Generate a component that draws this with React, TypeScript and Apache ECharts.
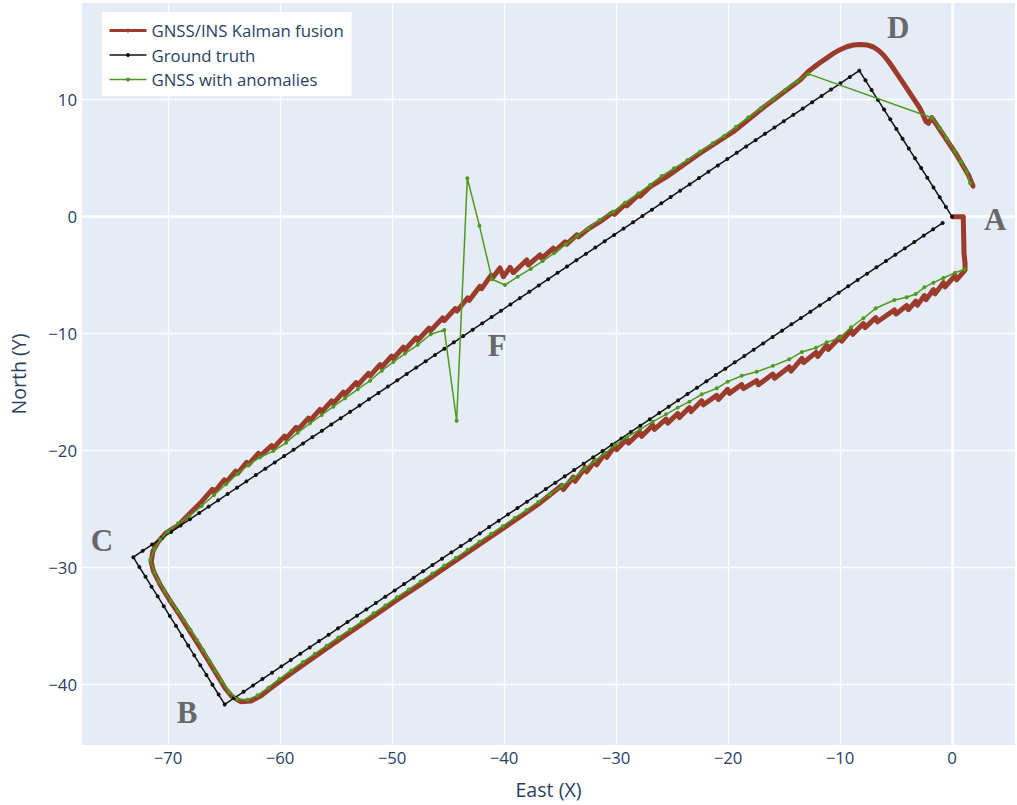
import React, { useEffect, useRef } from "react";
import * as echarts from "echarts";

type P = [number, number];

const xTicks = [-70, -60, -50, -40, -30, -20, -10, 0];
const yTicks = [-40, -30, -20, -10, 0, 10];

const seriesNames = ["GNSS/INS Kalman fusion", "Ground truth", "GNSS with anomalies"];

// ---- Ground truth (1 m spacing along a rotated rectangle) ----
const truthAB: P[] = [
  [-0.84,-0.54],[-1.69,-1.08],[-2.53,-1.62],[-3.37,-2.17],[-4.22,-2.71],[-5.06,-3.25],[-5.90,-3.79],[-6.75,-4.33],[-7.59,-4.87],[-8.43,-5.41],
  [-9.28,-5.95],[-10.12,-6.50],[-10.96,-7.04],[-11.81,-7.58],[-12.65,-8.12],[-13.49,-8.66],[-14.34,-9.20],[-15.18,-9.74],[-16.02,-10.28],[-16.87,-10.83],
  [-17.71,-11.37],[-18.55,-11.91],[-19.40,-12.45],[-20.24,-12.99],[-21.09,-13.53],[-21.93,-14.07],[-22.77,-14.62],[-23.62,-15.16],[-24.46,-15.70],[-25.30,-16.24],
  [-26.15,-16.78],[-26.99,-17.32],[-27.83,-17.86],[-28.68,-18.40],[-29.52,-18.95],[-30.36,-19.49],[-31.21,-20.03],[-32.05,-20.57],[-32.89,-21.11],[-33.74,-21.65],
  [-34.58,-22.19],[-35.42,-22.73],[-36.27,-23.28],[-37.11,-23.82],[-37.95,-24.36],[-38.80,-24.90],[-39.64,-25.44],[-40.48,-25.98],[-41.33,-26.52],[-42.17,-27.07],
  [-43.01,-27.61],[-43.86,-28.15],[-44.70,-28.69],[-45.54,-29.23],[-46.39,-29.77],[-47.23,-30.31],[-48.07,-30.85],[-48.92,-31.40],[-49.76,-31.94],[-50.60,-32.48],
  [-51.45,-33.02],[-52.29,-33.56],[-53.13,-34.10],[-53.98,-34.64],[-54.82,-35.18],[-55.66,-35.73],[-56.51,-36.27],[-57.35,-36.81],[-58.19,-37.35],[-59.04,-37.89],
  [-59.88,-38.43],[-60.72,-38.97],[-61.57,-39.51],[-62.41,-40.06],[-63.25,-40.60],[-64.10,-41.14],[-64.94,-41.68],
];
const truthBC: P[] = [
  [-65.48,-40.84],[-66.03,-40.00],[-66.57,-39.16],[-67.12,-38.33],[-67.66,-37.49],[-68.20,-36.65],[-68.75,-35.81],[-69.29,-34.97],
  [-69.84,-34.13],[-70.38,-33.29],[-70.92,-32.45],[-71.47,-31.62],[-72.01,-30.78],[-72.56,-29.94],[-73.10,-29.10],
];
const truthCD: P[] = [
  [-72.26,-28.56],[-71.42,-28.02],[-70.57,-27.48],[-69.73,-26.94],[-68.89,-26.40],[-68.05,-25.86],[-67.21,-25.32],[-66.37,-24.78],[-65.52,-24.24],[-64.68,-23.70],
  [-63.84,-23.16],[-63.00,-22.62],[-62.16,-22.08],[-61.31,-21.54],[-60.47,-21.00],[-59.63,-20.46],[-58.79,-19.92],[-57.95,-19.38],[-57.11,-18.84],[-56.26,-18.30],
  [-55.42,-17.76],[-54.58,-17.22],[-53.74,-16.68],[-52.90,-16.14],[-52.06,-15.60],[-51.21,-15.06],[-50.37,-14.52],[-49.53,-13.98],[-48.69,-13.44],[-47.85,-12.90],
  [-47.00,-12.36],[-46.16,-11.82],[-45.32,-11.28],[-44.48,-10.74],[-43.64,-10.20],[-42.80,-9.66],[-41.95,-9.12],[-41.11,-8.58],[-40.27,-8.04],[-39.43,-7.50],
  [-38.59,-6.96],[-37.74,-6.42],[-36.90,-5.88],[-36.06,-5.34],[-35.22,-4.80],[-34.38,-4.26],[-33.54,-3.72],[-32.69,-3.18],[-31.85,-2.64],[-31.01,-2.10],
  [-30.17,-1.56],[-29.33,-1.02],[-28.48,-0.48],[-27.64,0.06],[-26.80,0.60],[-25.96,1.14],[-25.12,1.68],[-24.28,2.22],[-23.43,2.76],[-22.59,3.30],
  [-21.75,3.84],[-20.91,4.38],[-20.07,4.92],[-19.22,5.46],[-18.38,6.00],[-17.54,6.54],[-16.70,7.08],[-15.86,7.62],[-15.02,8.16],[-14.17,8.70],
  [-13.33,9.24],[-12.49,9.78],[-11.65,10.32],[-10.81,10.86],[-9.97,11.40],[-9.12,11.94],[-8.28,12.48],
];
const truthDA: P[] = [
  [-7.73,11.65],[-7.18,10.82],[-6.62,9.98],[-6.07,9.15],[-5.52,8.32],[-4.97,7.49],[-4.42,6.66],[-3.86,5.82],
  [-3.31,4.99],[-2.76,4.16],[-2.21,3.33],[-1.66,2.50],[-1.10,1.66],[-0.55,0.83],[0.00,0.00],
];

// ---- GNSS with anomalies ----
const gnssAB: P[] = [
  [1.10,-4.50],[0.27,-4.79],[-0.77,-5.24],[-1.67,-5.64],[-2.47,-6.04],[-3.24,-6.61],[-4.05,-6.89],[-5.15,-7.12],[-6.81,-7.83],[-7.92,-8.68],
  [-9.02,-9.45],[-10.00,-10.34],[-11.19,-10.74],[-12.14,-11.20],[-13.40,-11.56],[-14.53,-12.19],[-16.00,-12.75],[-17.44,-13.26],[-18.78,-13.59],[-20.03,-14.10],
  [-21.01,-14.67],[-22.35,-15.18],[-23.45,-15.81],[-24.49,-16.32],[-25.54,-16.89],[-26.72,-17.52],[-27.86,-18.17],[-29.04,-18.85],[-30.09,-19.51],[-30.98,-20.22],
  [-31.88,-20.85],[-32.77,-21.50],[-33.81,-22.36],[-34.85,-23.02],[-35.90,-23.70],[-36.95,-24.38],[-38.00,-25.08],[-39.05,-25.74],[-40.10,-26.45],[-41.15,-27.10],
  [-42.20,-27.78],[-43.25,-28.47],[-44.30,-29.16],[-45.35,-29.82],[-46.40,-30.50],[-47.45,-31.18],[-48.50,-31.86],[-49.55,-32.52],[-50.60,-33.22],[-51.65,-33.90],
  [-52.70,-34.60],[-53.75,-35.28],[-54.80,-35.96],[-55.85,-36.66],[-56.90,-37.36],[-57.95,-38.05],[-59.00,-38.78],[-60.05,-39.50],[-61.05,-40.25],[-62.00,-40.90],
  [-62.90,-41.28],[-63.80,-41.22],[-64.55,-40.62],
];
const gnssBC: P[] = [
  [-65.20,-39.70],[-65.75,-38.85],[-66.30,-37.95],[-66.85,-37.05],[-67.40,-36.20],[-68.00,-35.30],[-68.55,-34.50],[-69.15,-33.70],
  [-69.75,-32.85],[-70.30,-32.00],[-70.80,-31.20],[-71.20,-30.40],[-71.60,-29.35],[-71.20,-28.40],[-70.70,-27.60],[-70.00,-26.90],
];
const gnssCD: P[] = [
  [-69.10,-26.20],[-68.10,-25.60],[-67.00,-24.73],[-65.89,-23.79],[-64.82,-22.87],[-63.81,-21.99],[-62.83,-21.22],[-61.79,-20.56],[-60.60,-20.03],[-59.46,-19.32],
  [-58.42,-18.46],[-57.32,-17.66],[-56.28,-16.95],[-55.24,-16.24],[-54.20,-15.52],[-53.06,-14.75],[-51.96,-14.02],[-50.92,-13.16],[-49.88,-12.42],[-48.84,-11.70],
  [-47.70,-10.95],[-46.55,-10.05],[-45.33,-9.68],[-44.23,-17.44],[-43.28,3.28],[-42.20,-0.77],[-41.07,-5.35],[-39.91,-5.84],[-38.78,-5.13],[-37.62,-4.47],
  [-36.55,-3.79],[-35.54,-3.13],[-34.50,-2.36],[-33.46,-1.65],[-32.47,-0.99],[-31.48,-0.28],[-30.24,0.43],[-29.20,1.20],[-28.00,2.00],[-26.96,2.71],
  [-25.92,3.48],[-24.82,4.13],[-23.63,4.85],[-22.50,5.56],[-21.37,6.27],[-20.36,6.90],[-19.29,7.69],[-18.19,8.49],[-17.08,9.26],[-15.95,10.06],
  [-14.91,10.83],[-13.87,11.54],[-12.83,12.20],
];
const gnssDA: P[] = [
  [-1.81,8.46],[-1.07,7.55],[-0.48,6.70],[0.21,5.62],[0.78,4.70],[1.31,3.85],[1.61,2.85],
];

// ---- GNSS/INS Kalman fusion ----
const fusionStart: P[] = [[0,0],[1.00,0],[1.07,-3.13],[1.16,-4.00],[1.16,-4.56]];
const fusionAB: P[] = [
  [1.10,-4.55],
  [0.42,-5.39],[0.27,-5.04],[-0.62,-5.99],[-0.77,-5.64],[-1.52,-6.59],[-1.67,-6.24],[-2.32,-7.09],[-2.47,-6.74],
  [-3.09,-7.56],[-3.24,-7.21],[-3.90,-7.94],[-4.05,-7.59],[-5.00,-8.32],[-5.15,-7.97],[-6.66,-8.98],[-6.81,-8.63],
  [-7.77,-9.48],[-7.92,-9.13],[-8.87,-10.05],[-9.02,-9.70],[-9.85,-10.64],[-10.00,-10.29],[-11.04,-11.34],[-11.19,-10.99],
  [-11.99,-11.95],[-12.14,-11.60],[-13.25,-12.46],[-13.40,-12.11],[-14.38,-13.19],[-14.53,-12.84],[-15.85,-13.80],[-16.00,-13.45],
  [-17.29,-14.36],[-17.44,-14.01],[-18.63,-14.69],[-18.78,-14.34],[-19.88,-15.10],[-20.03,-14.75],[-20.86,-15.62],[-21.01,-15.27],
  [-22.20,-16.08],[-22.35,-15.73],[-23.30,-16.66],[-23.45,-16.31],[-24.34,-17.17],[-24.49,-16.82],[-25.39,-17.64],[-25.54,-17.29],
  [-26.57,-18.17],[-26.72,-17.82],[-27.71,-18.77],[-27.86,-18.42],[-28.89,-19.35],[-29.04,-19.00],[-29.94,-19.91],[-30.09,-19.56],
  [-30.83,-20.57],[-30.98,-20.22],[-31.73,-21.20],[-31.88,-20.85],[-32.62,-21.80],[-32.77,-21.45],[-33.66,-22.61],[-33.81,-22.26],
  [-34.70,-23.32],[-34.85,-22.97],
  [-36.95,-24.58],[-39.05,-25.96],[-41.15,-27.32],[-43.25,-28.70],[-45.35,-30.05],[-47.45,-31.42],[-49.55,-32.76],[-51.65,-34.14],
  [-53.75,-35.52],[-55.85,-36.90],[-57.95,-38.30],[-59.50,-39.35],[-60.70,-40.20],[-61.70,-40.95],[-62.60,-41.40],[-63.50,-41.45],
  [-64.30,-41.00],[-64.90,-40.30],
];
const fusionBC: P[] = [
  [-65.50,-39.35],[-66.30,-38.10],[-67.20,-36.70],[-68.10,-35.35],[-69.00,-34.00],[-69.90,-32.70],[-70.70,-31.45],[-71.30,-30.30],
  [-71.50,-29.50],[-71.35,-28.60],[-70.90,-27.80],[-70.20,-27.05],
];
const fusionCD: P[] = [
  [-69.10,-26.37],[-68.10,-25.41],[-67.00,-24.36],
  [-66.04,-23.30],[-65.89,-23.55],[-64.97,-22.50],[-64.82,-22.73],[-63.96,-21.75],[-63.81,-21.95],[-62.98,-21.00],[-62.83,-21.20],
  [-61.94,-20.23],[-61.79,-20.46],[-60.75,-19.57],[-60.60,-19.78],[-59.61,-18.75],[-59.46,-18.96],[-58.57,-18.00],[-58.42,-18.22],
  [-57.47,-17.22],[-57.32,-17.43],[-56.43,-16.47],[-56.28,-16.69],[-55.39,-15.74],[-55.24,-15.95],[-54.35,-14.99],[-54.20,-15.20],
  [-53.21,-14.18],[-53.06,-14.39],[-52.11,-13.39],[-51.96,-13.60],[-51.07,-12.65],[-50.92,-12.86],[-50.03,-11.91],[-49.88,-12.12],
  [-48.99,-11.16],[-48.84,-11.37],[-47.85,-10.35],[-47.70,-10.56],[-46.70,-9.53],[-46.55,-9.74],[-45.48,-8.66],[-45.33,-8.87],
  [-44.35,-7.85],[-44.20,-8.06],[-43.25,-6.95],[-43.10,-7.15],[-42.15,-5.95],[-42.00,-6.15],[-41.15,-5.00],[-41.00,-5.20],
  [-40.36,-4.38],[-40.06,-5.13],[-39.46,-4.33],[-39.17,-4.79],[-37.97,-3.70],[-37.83,-4.13],[-36.79,-3.27],[-36.64,-3.56],
  [-35.60,-2.70],[-35.45,-2.95],[-34.55,-2.15],[-34.40,-2.35],[-33.50,-1.55],[-33.35,-1.72],[-32.40,-1.00],[-31.43,-0.43],
  [-30.30,0.35],[-30.15,0.20],[-29.20,1.05],[-29.05,0.92],[-28.00,1.85],[-27.85,1.75],[-26.90,2.60],[-25.47,3.42],
  [-22.50,5.42],[-19.53,7.26],[-16.55,9.55],[-13.57,11.68],[-12.83,12.40],
];
const fusionDA: P[] = [
  [-12.30,12.80],[-11.80,13.15],[-11.20,13.55],[-10.60,13.95],[-10.00,14.27],[-9.40,14.52],[-8.80,14.67],[-8.21,14.72],
  [-7.60,14.68],[-7.02,14.50],[-6.55,14.20],[-6.13,13.82],[-5.70,13.30],[-5.24,12.68],[-4.04,10.97],
  [-2.86,9.26],[-2.32,8.12],[-2.11,7.98],[-1.81,8.46],[-0.77,6.98],[0.42,5.27],[1.46,3.56],[1.90,2.56],
];

// ---- Corner annotations ----
const annotationLabels = ["D", "A", "F", "C", "B"];
const annotationX = [-4.82, 3.84, -40.6, -75.9, -68.3];
const annotationY = [16.2, -0.2, -11.05, -27.7, -42.4];

const RED = "#9a3b2c";
const GREEN = "#4d9a1f";
const BLACK = "#111111";
const TEXT = "#2a3f5f";
const FONT = "'Open Sans', 'Noto Sans', sans-serif";

const fmt = (v: number) => String(v).replace("-", "\u2212");

export default function App() {
  const ref = useRef<HTMLDivElement>(null);
  useEffect(() => {
    if (!ref.current) return;
    const chart = echarts.init(ref.current, undefined, { renderer: "svg" });
    const fusion = [...fusionStart, ...fusionAB, ...fusionBC, ...fusionCD, ...fusionDA];
    const truth = [...truthAB, ...truthBC, ...truthCD, ...truthDA];
    const gnss = [...gnssAB, ...gnssBC, ...gnssCD, ...gnssDA];

    const gridLineData = [
      ...xTicks.map((v) => ({ xAxis: v, lineStyle: { width: v === 0 ? 2.5 : 1.3 } })),
      ...yTicks.map((v) => ({ yAxis: v, lineStyle: { width: v === 0 ? 2.5 : 1.3 } })),
    ];

    chart.setOption({
      animation: false,
      backgroundColor: "#ffffff",
      textStyle: { fontFamily: FONT },
      grid: {
        left: 82,
        right: 2,
        top: 3,
        bottom: 60,
        show: true,
        backgroundColor: "#E5ECF6",
        borderWidth: 0,
      },
      legend: {
        left: 102,
        top: 12,
        orient: "vertical",
        backgroundColor: "#ffffff",
        padding: [10, 8, 8, 6],
        itemWidth: 37,
        itemHeight: 5,
        itemGap: 7.5,
        textStyle: { fontSize: 16.8, color: TEXT, fontFamily: FONT, lineHeight: 17 },
        data: [
          { name: seriesNames[0], lineStyle: { width: 3 } },
          { name: seriesNames[1], lineStyle: { width: 1.5 } },
          { name: seriesNames[2], lineStyle: { width: 1.5 } },
        ],
      },
      xAxis: {
        type: "value",
        min: -77.68,
        max: 5.62,
        splitLine: { show: false },
        axisLine: { show: false },
        axisTick: { show: false },
        axisLabel: {
          customValues: xTicks,
          formatter: fmt,
          fontSize: 16.8,
          color: TEXT,
          fontFamily: FONT,
          margin: 4,
        },
        name: "East (X)",
        nameLocation: "middle",
        nameGap: 34,
        nameTextStyle: { fontSize: 19.6, color: TEXT, fontFamily: FONT },
      },
      yAxis: {
        type: "value",
        min: -45.15,
        max: 18.26,
        splitLine: { show: false },
        axisLine: { show: false },
        axisTick: { show: false },
        axisLabel: {
          customValues: yTicks,
          formatter: fmt,
          fontSize: 16.8,
          color: TEXT,
          fontFamily: FONT,
          margin: 5,
        },
        name: "North (Y)",
        nameLocation: "middle",
        nameGap: 54,
        nameTextStyle: { fontSize: 19.6, color: TEXT, fontFamily: FONT },
      },
      series: [
        {
          name: "gridlines",
          type: "line",
          data: [],
          silent: true,
          z: 1,
          markLine: {
            silent: true,
            symbol: ["none", "none"],
            label: { show: false },
            z: 1,
            animation: false,
            lineStyle: { color: "#ffffff", type: "solid", width: 1.3 },
            emphasis: { disabled: true },
            data: gridLineData,
          },
        },
        {
          name: seriesNames[0],
          type: "line",
          data: fusion,
          z: 2,
          symbol: "circle",
          symbolSize: 4,
          showSymbol: true,
          lineStyle: { color: RED, width: 5, join: "round" },
          itemStyle: { color: RED },
          emphasis: { disabled: true },
        },
        {
          name: seriesNames[1],
          type: "line",
          data: truth,
          z: 3,
          symbol: "circle",
          symbolSize: 4,
          lineStyle: { color: BLACK, width: 1.5 },
          itemStyle: { color: BLACK },
          emphasis: { disabled: true },
        },
        {
          name: seriesNames[2],
          type: "line",
          data: gnss,
          z: 4,
          symbol: "circle",
          symbolSize: 4,
          lineStyle: { color: GREEN, width: 1.5 },
          itemStyle: { color: GREEN },
          emphasis: { disabled: true },
        },
        {
          name: "annotations",
          type: "scatter",
          z: 5,
          symbolSize: 0,
          silent: true,
          data: annotationLabels.map((l, i) => ({ name: l, value: [annotationX[i], annotationY[i]] })),
          label: {
            show: true,
            position: "inside",
            formatter: (p: any) => p.name,
            fontFamily: "'Liberation Serif', 'DejaVu Serif', serif",
            fontWeight: "bold",
            fontSize: 31,
            color: "#444444",
          },
        },
      ],
    });
    return () => chart.dispose();
  }, []);
  return (
    <div
      ref={ref}
      style={{ position: "fixed", left: 0, top: 0, width: 1017, height: 805, background: "#fff" }}
    />
  );
}
